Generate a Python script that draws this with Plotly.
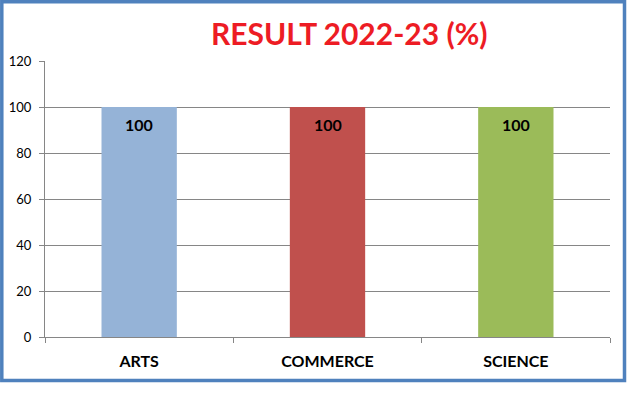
import plotly.graph_objects as go

categories = ["ARTS", "COMMERCE", "SCIENCE"]
values = [100, 100, 100]
bar_colors = ["#95B3D7", "#C0504D", "#9BBB59"]
y_ticks = [0, 20, 40, 60, 80, 100, 120]

W, H = 637, 394
L, R, T, B = 45, 27, 61, 57
pw = W - L - R
ph = H - T - B

def px_x(p):
    return (p - L) / pw

def px_y(p):
    return (H - B - p) / ph

fig = go.Figure()
fig.add_trace(go.Bar(
    x=categories, y=values, marker=dict(color=bar_colors, line=dict(width=0)),
    hoverinfo="skip", showlegend=False,
))

for c, v in zip(categories, values):
    fig.add_annotation(x=c, y=v, xref="x", yref="y", text=str(v), showarrow=False,
                       yshift=-17, font=dict(family="Lato", size=16, color="#000000", weight="bold"))

fig.add_annotation(x=px_x(349), y=px_y(33), xref="paper", yref="paper",
                   text="RESULT 2022-23 (%)", showarrow=False, xanchor="center", yanchor="middle",
                   font=dict(family="Lato", size=30, color="#ED1C24", weight="bold"))

fig.add_shape(type="rect", xref="paper", yref="paper",
              x0=px_x(1.8), x1=px_x(624.5), y0=px_y(1.8), y1=px_y(380.5),
              line=dict(color="#4F81BD", width=3.5), layer="above")

fig.update_layout(
    width=W, height=H, margin=dict(l=L, r=R, t=T, b=B, pad=0, autoexpand=False),
    paper_bgcolor="white", plot_bgcolor="white", bargap=0.6,
    xaxis=dict(type="category", showline=True, linecolor="#868686", linewidth=1,
               ticks="outside", tickson="boundaries", ticklen=5, tickcolor="#868686",
               ticklabelstandoff=10, automargin=False,
               tickfont=dict(family="Lato", size=16, color="#000000", weight="bold"),
               showgrid=False, fixedrange=True),
    yaxis=dict(range=[0, 120], tickvals=y_ticks, showline=True, linecolor="#868686", linewidth=1,
               ticks="outside", ticklen=5, tickcolor="#868686", ticklabelstandoff=5,
               automargin=False,
               showgrid=True, gridcolor="#868686", gridwidth=1, zeroline=False,
               tickfont=dict(family="Lato", size=13, color="#000000"), fixedrange=True),
)

fig.write_html("out.html", config={"displayModeBar": False},
               post_script="document.body.style.margin='0';document.body.style.padding='0';")
